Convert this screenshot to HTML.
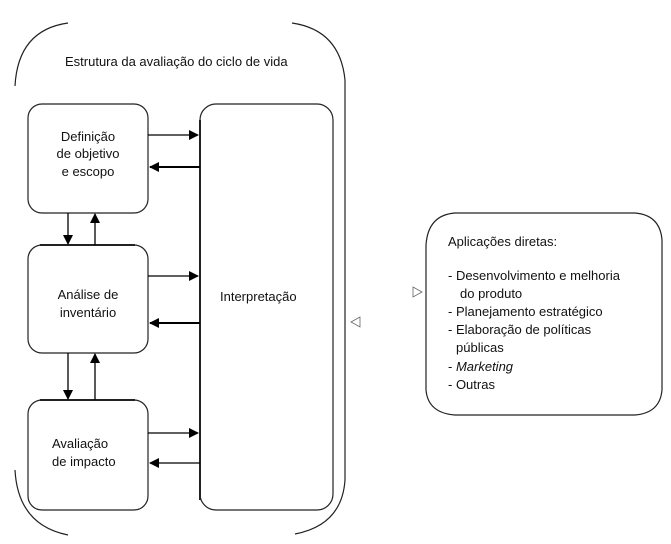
<!DOCTYPE html>
<html><head><meta charset="utf-8"><style>
body{margin:0;background:#fff}
svg text{font-family:"Liberation Sans",sans-serif;font-size:13px;fill:#111}
</style></head><body>
<svg width="671" height="539" viewBox="0 0 671 539" xmlns="http://www.w3.org/2000/svg">
<defs>
<marker id="a" markerWidth="10" markerHeight="10" refX="9" refY="5" orient="auto" markerUnits="userSpaceOnUse"><path d="M0,0 L10,5 L0,10 z" fill="#000"/></marker>
</defs>
<g fill="none" stroke="#222" stroke-width="1.2">
<path d="M15,86 Q18,30 68,23"/>
<path d="M292,23 Q340,30 345,80 L345,480 Q342,525 295,534"/>
<path d="M15,470 Q18,525 68,535"/>
<rect x="28" y="104" width="120" height="109" rx="14"/>
<rect x="28" y="245" width="120" height="108" rx="14"/>
<rect x="28" y="400" width="120" height="110" rx="14"/>
<rect x="200" y="104" width="133" height="406" rx="16"/>
<path d="M200,120 V500" stroke-width="2"/>
<path d="M40,245 H135" stroke-width="2"/>
<path d="M40,400 H135" stroke-width="2"/>
<path d="M455,213 L635,213 Q660,215 662,240 L662,390 Q660,413 635,415 L455,415 Q428,413 426,390 L426,245 Q428,215 455,213 Z"/>
</g>
<g stroke="#000" stroke-width="1.3">
<line x1="148" y1="135" x2="198" y2="135" marker-end="url(#a)"/>
<line x1="200" y1="167" x2="150" y2="167" marker-end="url(#a)" stroke-width="2"/>
<line x1="148" y1="276" x2="198" y2="276" marker-end="url(#a)"/>
<line x1="200" y1="323" x2="150" y2="323" marker-end="url(#a)" stroke-width="2"/>
<line x1="148" y1="433" x2="198" y2="433" marker-end="url(#a)"/>
<line x1="200" y1="463" x2="150" y2="463" marker-end="url(#a)"/>
<line x1="68" y1="213" x2="68" y2="244" marker-end="url(#a)"/>
<line x1="95" y1="245" x2="95" y2="214" marker-end="url(#a)"/>
<line x1="68" y1="353" x2="68" y2="399" marker-end="url(#a)"/>
<line x1="95" y1="400" x2="95" y2="354" marker-end="url(#a)"/>
</g>
<path d="M413,287 L422,292 L413,297 Z M360,317 L351,322 L360,327 Z" fill="none" stroke="#666" stroke-width="0.8"/>
<text x="65" y="66">Estrutura da avaliação do ciclo de vida</text>
<text x="88" y="141" text-anchor="middle">Definição</text>
<text x="88" y="158" text-anchor="middle">de objetivo</text>
<text x="88" y="176" text-anchor="middle">e escopo</text>
<text x="88" y="299" text-anchor="middle">Análise de</text>
<text x="88" y="317" text-anchor="middle">inventário</text>
<text x="52" y="448">Avaliação</text>
<text x="52" y="466">de impacto</text>
<text x="220" y="301">Interpretação</text>
<text x="448" y="246">Aplicações diretas:</text>
<text x="448" y="280">- Desenvolvimento e melhoria</text>
<text x="460" y="298">do  produto</text>
<text x="448" y="316">- Planejamento estratégico</text>
<text x="448" y="334">- Elaboração de políticas</text>
<text x="456" y="352">públicas</text>
<text x="448" y="371">- <tspan font-style="italic">Marketing</tspan></text>
<text x="448" y="389">- Outras</text>
</svg>
</body></html>
